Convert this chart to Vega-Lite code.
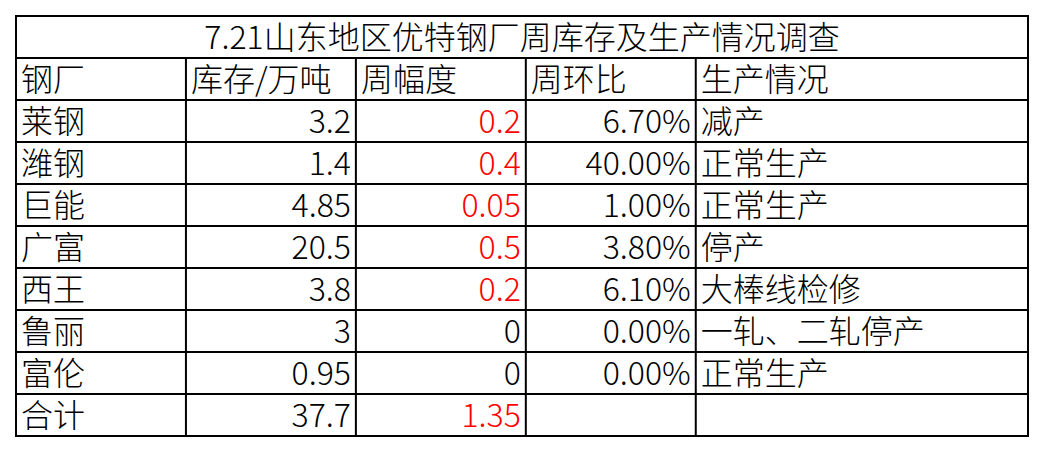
{
  "$schema": "https://vega.github.io/schema/vega-lite/v6.json",
  "width": 1012,
  "height": 420,
  "autosize": {"type": "none"},
  "padding": {"left": 16, "top": 16, "right": 16, "bottom": 16},
  "background": "white",
  "datasets": {
    "title": [{"标题": "7.21山东地区优特钢厂周库存及生产情况调查"}],
    "columns": [
      {"列": "钢厂", "序": 0},
      {"列": "库存/万吨", "序": 1},
      {"列": "周幅度", "序": 2},
      {"列": "周环比", "序": 3},
      {"列": "生产情况", "序": 4}
    ],
    "table": [
      {"行": 2, "钢厂": "莱钢", "库存": 3.2, "周幅度": 0.2, "周环比": 0.067, "生产情况": "减产"},
      {"行": 3, "钢厂": "潍钢", "库存": 1.4, "周幅度": 0.4, "周环比": 0.4, "生产情况": "正常生产"},
      {"行": 4, "钢厂": "巨能", "库存": 4.85, "周幅度": 0.05, "周环比": 0.01, "生产情况": "正常生产"},
      {"行": 5, "钢厂": "广富", "库存": 20.5, "周幅度": 0.5, "周环比": 0.038, "生产情况": "停产"},
      {"行": 6, "钢厂": "西王", "库存": 3.8, "周幅度": 0.2, "周环比": 0.061, "生产情况": "大棒线检修"},
      {"行": 7, "钢厂": "鲁丽", "库存": 3, "周幅度": 0, "周环比": 0, "生产情况": "一轧、二轧停产"},
      {"行": 8, "钢厂": "富伦", "库存": 0.95, "周幅度": 0, "周环比": 0, "生产情况": "正常生产"},
      {"行": 9, "钢厂": "合计", "库存": 37.7, "周幅度": 1.35, "周环比": null, "生产情况": null}
    ]
  },
  "encoding": {
    "x": {"type": "quantitative", "scale": {"domain": [0, 5.955], "nice": false, "zero": false}, "axis": null},
    "y": {"type": "quantitative", "scale": {"domain": [0, 10], "reverse": true, "nice": false, "zero": false}, "axis": null}
  },
  "layer": [
    {
      "data": {"name": "table"},
      "mark": {"type": "rule", "color": "black", "strokeWidth": 2},
      "encoding": {"y": {"field": "行"}}
    },
    {
      "data": {"name": "title"},
      "mark": {"type": "rule", "color": "black", "strokeWidth": 2},
      "encoding": {"y": {"datum": 1}}
    },
    {
      "data": {"name": "columns"},
      "transform": [{"filter": "datum['序'] > 0"}],
      "mark": {"type": "rule", "color": "black", "strokeWidth": 2},
      "encoding": {"x": {"field": "序"}, "y": {"datum": 1}, "y2": {"datum": 10}}
    },
    {
      "data": {"name": "title"},
      "mark": {"type": "text", "align": "center", "baseline": "middle", "dy": 23},
      "encoding": {"x": {"datum": 2.9775}, "y": {"datum": 0}, "text": {"field": "标题"}}
    },
    {
      "data": {"name": "columns"},
      "mark": {"type": "text", "align": "left", "baseline": "middle", "dx": 5, "dy": 23},
      "encoding": {"x": {"field": "序"}, "y": {"datum": 1}, "text": {"field": "列"}}
    },
    {
      "data": {"name": "table"},
      "mark": {"type": "text", "align": "left", "baseline": "middle", "dx": 5, "dy": 23},
      "encoding": {"x": {"datum": 0}, "y": {"field": "行"}, "text": {"field": "钢厂"}}
    },
    {
      "data": {"name": "table"},
      "mark": {"type": "text", "align": "right", "baseline": "middle", "dx": -5, "dy": 23},
      "encoding": {"x": {"datum": 2}, "y": {"field": "行"}, "text": {"field": "库存", "type": "quantitative", "format": ""}}
    },
    {
      "data": {"name": "table"},
      "mark": {"type": "text", "align": "right", "baseline": "middle", "dx": -5, "dy": 23},
      "encoding": {
        "x": {"datum": 3},
        "y": {"field": "行"},
        "text": {"field": "周幅度", "type": "quantitative", "format": ""},
        "color": {"condition": {"test": "datum['周幅度'] > 0", "value": "#ff0000"}, "value": "black"}
      }
    },
    {
      "data": {"name": "table"},
      "transform": [{"filter": "isValid(datum['周环比'])"}],
      "mark": {"type": "text", "align": "right", "baseline": "middle", "dx": -5, "dy": 23},
      "encoding": {"x": {"datum": 4}, "y": {"field": "行"}, "text": {"field": "周环比", "type": "quantitative", "format": ".2%"}}
    },
    {
      "data": {"name": "table"},
      "transform": [{"filter": "isValid(datum['生产情况'])"}],
      "mark": {"type": "text", "align": "left", "baseline": "middle", "dx": 5, "dy": 23},
      "encoding": {"x": {"datum": 4}, "y": {"field": "行"}, "text": {"field": "生产情况"}}
    }
  ],
  "config": {
    "view": {"stroke": "black", "strokeWidth": 2},
    "text": {"font": "Noto Sans CJK SC", "fontSize": 32, "fontWeight": 300, "color": "black"}
  }
}
